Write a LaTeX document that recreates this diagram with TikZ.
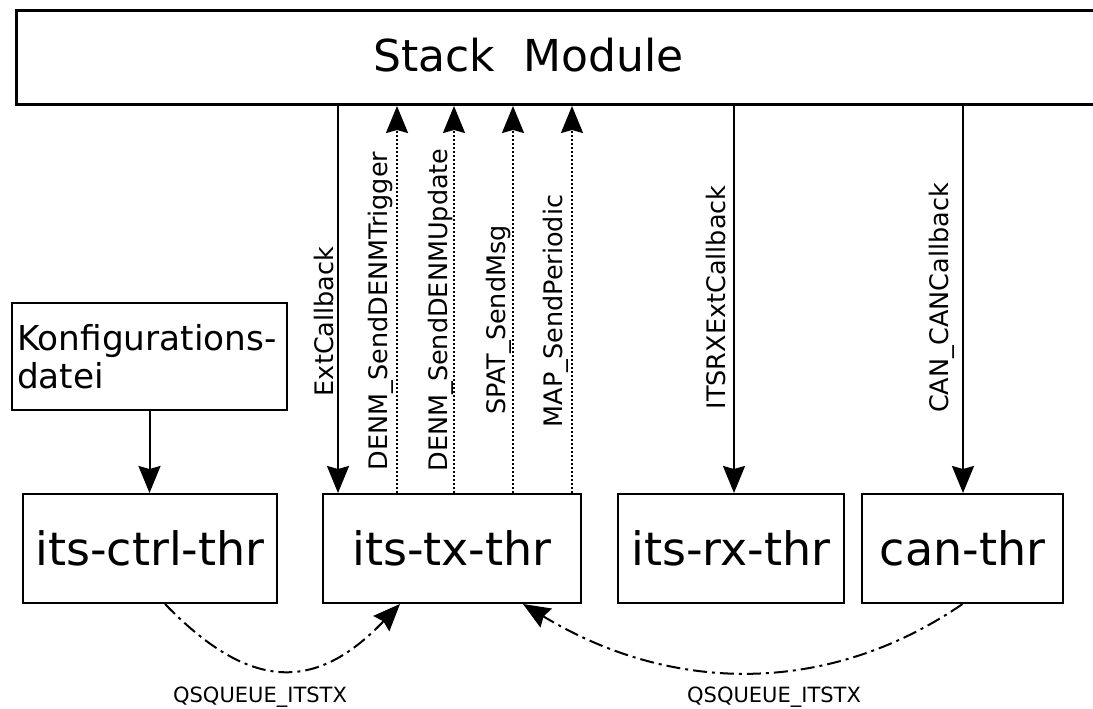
\documentclass[tikz,border=0pt]{standalone}
\usepackage{fontspec}
\setmainfont{DejaVu Sans}
\usetikzlibrary{arrows.meta}
\begin{document}
\begin{tikzpicture}[x=1pt,y=-1pt,
  thr/.style={draw, line width=2pt, inner sep=0pt, minimum height=109pt, font=\fontsize{46}{50}\selectfont},
  tip/.style={-{Stealth[length=27pt,width=22pt,inset=3pt]}},
  callarrow/.style={line width=2pt, tip},
  sendarrow/.style={line width=2pt, dash pattern=on 2pt off 2pt, tip},
  lbl/.style={rotate=90, anchor=base, inner sep=0pt, font=\fontsize{25.5}{28}\selectfont},
  queue/.style={line width=2pt, dash pattern=on 14pt off 5pt on 3pt off 5pt, tip},
  qlbl/.style={anchor=base, inner sep=0pt, font=\fontsize{21}{24}\selectfont}]
\useasboundingbox (0,0) rectangle (1093,709);
\clip (0,0) rectangle (1093,709);

% Stack module
\node[draw, line width=3pt, inner sep=0pt, minimum width=1100pt, minimum height=93.5pt, anchor=north west] (stack) at (15,9.5) {};
\node[anchor=base, inner sep=0pt, font=\fontsize{44}{48}\selectfont] (stacktext) at (528.5,72) {Stack\ \ Module};

% configuration file
\node[draw, line width=2pt, align=left, inner xsep=5pt, text width=265pt, minimum height=107pt, font=\fontsize{34.3}{38}\selectfont] (konf) at (149.5,356.5) {Konfigurations-\\datei};

% threads
\node[thr, minimum width=254pt] (ctrl) at (150,548.5) {its-ctrl-thr};
\node[thr, minimum width=258pt] (tx) at (452,548.5) {its-tx-thr};
\node[thr, minimum width=226pt] (rx) at (731,548.5) {its-rx-thr};
\node[thr, minimum width=201pt] (can) at (962.5,548.5) {can-thr};

% x positions of the vertical connectors
\coordinate (cExt) at (338,0);
\coordinate (cTrig) at (397,0);
\coordinate (cUpd) at (454,0);
\coordinate (cSpat) at (513,0);
\coordinate (cMap) at (572,0);
\coordinate (cRx) at (734,0);
\coordinate (cCan) at (963,0);

\draw[callarrow] (konf.south) -- (konf.south |- ctrl.north);

\draw[callarrow] (cExt |- stack.south) -- (cExt |- tx.north);
\draw[sendarrow] (cTrig |- tx.north) -- (cTrig |- stack.south);
\draw[sendarrow] (cUpd |- tx.north) -- (cUpd |- stack.south);
\draw[sendarrow] (cSpat |- tx.north) -- (cSpat |- stack.south);
\draw[sendarrow] (cMap |- tx.north) -- (cMap |- stack.south);
\draw[callarrow] (cRx |- stack.south) -- (cRx |- rx.north);
\draw[callarrow] (cCan |- stack.south) -- (cCan |- can.north);

\node[lbl] (lExt) at (333,321.5) {ExtCallback};
\node[lbl] (lTrig) at (387,311) {DENM\_SendDENMTrigger};
\node[lbl] (lUpd) at (447,310) {DENM\_SendDENMUpdate};
\node[lbl] (lSpat) at (505,320) {SPAT\_SendMsg};
\node[lbl] (lMap) at (562,311) {MAP\_SendPeriodic};
\node[lbl] (lRx) at (725,297.5) {ITSRXExtCallback};
\node[lbl] (lCan) at (948,298) {CAN\_CANCallback};

% queues
\draw[queue] ([xshift=15pt]ctrl.south) .. controls (250,692) and (316,692) .. ([xshift=-52pt]tx.south);
\draw[queue] (can.south) .. controls (830,695) and (673,695) .. ([xshift=71pt]tx.south);
\node[qlbl] (q1) at (260,702) {QSQUEUE\_ITSTX};
\node[qlbl] (q2) at (774,702) {QSQUEUE\_ITSTX};
\end{tikzpicture}
\end{document}
